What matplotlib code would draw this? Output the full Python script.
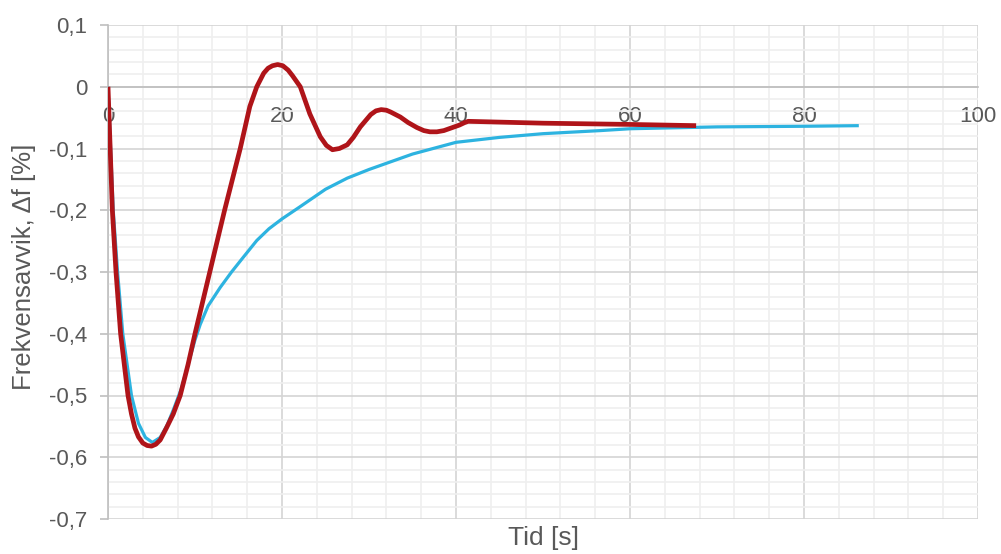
import matplotlib
matplotlib.use("Agg")
import matplotlib.pyplot as plt
from matplotlib.ticker import MultipleLocator, FuncFormatter

plt.rcParams['font.family'] = ['Liberation Sans', 'DejaVu Sans']

# Red series (time [s], frequency deviation [%])
red_t = [0, 0.25, 0.5, 0.92, 1.45, 2.3, 2.7, 3.1, 3.5, 4.0, 4.5, 5.0, 5.5, 6.0, 6.7, 7.5,
         8.3, 9.2, 10.0, 11.7, 13.4, 15.2, 16.3, 17.1, 17.9, 18.4, 18.9, 19.5, 20.1, 20.7,
         21.2, 22.1, 23.2, 24.4, 25.1, 25.8, 26.6, 27.5, 28.2, 29.0, 30.2, 30.8, 31.4,
         32.0, 32.5, 33.6, 34.5, 35.5, 36.3, 37.0, 37.8, 38.6, 39.4, 40.4, 41.0, 41.4,
         50.0, 60.0, 67.6]
red_v = [0, -0.1, -0.2, -0.3, -0.4, -0.5, -0.53, -0.553, -0.567, -0.577, -0.581, -0.582,
         -0.579, -0.572, -0.553, -0.53, -0.5, -0.45, -0.4, -0.3, -0.2, -0.1, -0.032, 0.0,
         0.022, 0.030, 0.034, 0.036, 0.034, 0.027, 0.018, 0.0, -0.044, -0.081, -0.095,
         -0.102, -0.100, -0.094, -0.082, -0.065, -0.045, -0.039, -0.037, -0.038, -0.041,
         -0.049, -0.058, -0.066, -0.071, -0.073, -0.073, -0.071, -0.067, -0.062, -0.058,
         -0.056, -0.059, -0.061, -0.063]

# Blue series
blue_t = [0, 0.3, 0.6, 1.1, 1.7, 2.7, 3.5, 4.3, 5.1, 6.0, 6.8, 7.6, 8.4, 9.3, 10.0, 10.6,
          11.5, 12.9, 14.2, 15.5, 17.1, 18.5, 20.0, 22.0, 25.0, 27.5, 30.0, 35.0, 40.0,
          45.0, 50.0, 56.6, 60.0, 70.0, 80.0, 86.3]
blue_v = [0, -0.1, -0.2, -0.3, -0.4, -0.5, -0.545, -0.568, -0.576, -0.568, -0.548, -0.52,
          -0.49, -0.445, -0.41, -0.385, -0.355, -0.325, -0.3, -0.277, -0.249, -0.23,
          -0.214, -0.195, -0.166, -0.148, -0.134, -0.109, -0.09, -0.082, -0.076, -0.071,
          -0.068, -0.065, -0.064, -0.063]

x_label = "Tid [s]"
y_label = "Frekvensavvik, \u0394f [%]"

fig = plt.figure(figsize=(10.01, 5.54), dpi=100)
ax = fig.add_axes([108 / 1001, 1 - 519 / 554, (978 - 108) / 1001, (519 - 25) / 554])

ax.set_xlim(0, 100)
ax.set_ylim(-0.7, 0.1)

ax.xaxis.set_major_locator(MultipleLocator(20))
ax.xaxis.set_minor_locator(MultipleLocator(4))
ax.yaxis.set_major_locator(MultipleLocator(0.1))
ax.yaxis.set_minor_locator(MultipleLocator(0.02))

ax.grid(which='minor', color='#efefef', linewidth=1.2)
ax.grid(which='major', color='#d4d4d4', linewidth=1.2)
ax.set_axisbelow(True)

for s in ['top', 'right']:
    ax.spines[s].set_visible(False)
ax.spines['left'].set_color('#bfbfbf')
ax.spines['left'].set_linewidth(1.2)
ax.spines['bottom'].set_position(('data', 0))
ax.spines['bottom'].set_color('#bfbfbf')
ax.spines['bottom'].set_linewidth(1.2)

ax.tick_params(axis='x', which='both', length=0, pad=14, labelsize=16, labelcolor='#595959')
ax.tick_params(axis='y', which='major', length=6, width=1.2, color='#bfbfbf', pad=9,
               labelsize=16, labelcolor='#595959')
ax.tick_params(axis='y', which='minor', length=0)

def yfmt(v, pos):
    s = f"{v:.1f}".replace('.', ',')
    if s in ('0,0', '-0,0'):
        s = '0'
    return s

def xfmt(v, pos):
    return f"{v:.0f}"

ax.yaxis.set_major_formatter(FuncFormatter(yfmt))
ax.xaxis.set_major_formatter(FuncFormatter(xfmt))

ax.plot(blue_t, blue_v, color='#2DB3E0', linewidth=2.3, solid_capstyle='butt',
        solid_joinstyle='round', zorder=3)
ax.plot(red_t, red_v, color='#AF1419', linewidth=3.4, solid_capstyle='butt',
        solid_joinstyle='round', zorder=4)

fig.text(544 / 1001, 1 - 538 / 554, x_label, ha='center', va='center', fontsize=19, color='#595959')
fig.text(24 / 1001, 1 - 267 / 554, y_label, ha='center', va='center', rotation=90,
         fontsize=18.5, color='#595959')

fig.savefig('out.png', dpi=100)
